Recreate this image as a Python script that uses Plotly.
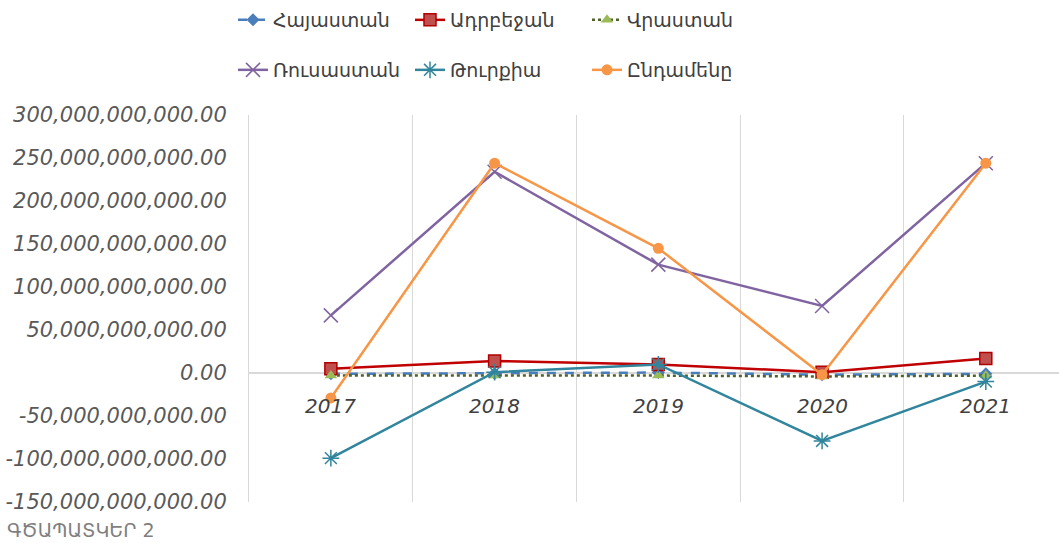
import plotly.graph_objects as go

years = ["2017", "2018", "2019", "2020", "2021"]
armenia = [-1.0e9, -0.5e9, 0.5e9, -2.0e9, -1.0e9]
azerbaijan = [5e9, 14e9, 10e9, 1e9, 17e9]
georgia = [-3e9, -3e9, -3e9, -4e9, -3e9]
russia = [67e9, 234e9, 126e9, 78e9, 244e9]
turkey = [-99e9, 1e9, 10e9, -79e9, -10e9]
total = [-29e9, 244e9, 145e9, -2e9, 244e9]
names = ["Հայաստան", "Ադրբեջան", "Վրաստան", "Ռուսաստան", "Թուրքիա", "Ընդամենը"]
ytick_vals = [-150e9, -100e9, -50e9, 0, 50e9, 100e9, 150e9, 200e9, 250e9, 300e9]
caption = "ԳԾԱՊԱՏԿԵՐ 2"

ytick_text = [f"{v:,.2f}" for v in ytick_vals]

fig = go.Figure()
specs = [
    (armenia, names[0], dict(color="#4a7ebb", width=2.5, dash="dash"), dict(symbol="diamond", size=10, color="#4a7ebb"), "legend"),
    (azerbaijan, names[1], dict(color="#c00000", width=2.5), dict(symbol="square", size=12, color="#c0504d", line=dict(color="#b00000", width=1.5)), "legend"),
    (georgia, names[2], dict(color="#4f6228", width=2.5, dash="dot"), dict(symbol="triangle-up", size=11, color="#9bbb59"), "legend"),
    (russia, names[3], dict(color="#8064a2", width=2.5), dict(symbol="x-thin-open", size=14, color="#8064a2", line=dict(color="#8064a2", width=1.5)), "legend2"),
    (turkey, names[4], dict(color="#31859c", width=2.5), dict(symbol="asterisk-open", size=14, color="#31859c", line=dict(color="#31859c", width=1.5)), "legend2"),
    (total, names[5], dict(color="#f79646", width=2.5), dict(symbol="circle", size=11, color="#f79646"), "legend2"),
]
for vals, nm, ln, mk, lg in specs:
    fig.add_trace(go.Scatter(x=years, y=vals, name=nm, mode="lines+markers",
                             line=ln, marker=mk, legend=lg))

for i, yr in enumerate(years):
    fig.add_annotation(x=i, y=0, text=yr, showarrow=False, yshift=-33,
                       font=dict(family="DejaVu Sans", size=20, color="#404040", style="italic"))

fig.add_annotation(xref="paper", yref="paper", x=-244/810, y=-28/387, xanchor="left", yanchor="middle",
                   text=caption, showarrow=False,
                   font=dict(family="DejaVu Sans", size=19, color="#7f7f7f"))

legend_common = dict(orientation="h", xref="container", yref="container", xanchor="left", yanchor="middle",
                     font=dict(family="DejaVu Sans", size=19, color="#404040"),
                     bgcolor="rgba(0,0,0,0)", entrywidth=132, itemwidth=30)
fig.update_layout(
    width=1059, height=543,
    margin=dict(l=249, r=0, t=115, b=41),
    paper_bgcolor="white", plot_bgcolor="white",
    legend=dict(x=233/1059, y=1 - 20/543, **legend_common),
    legend2=dict(x=233/1059, y=1 - 70/543, **legend_common),
    xaxis=dict(type="category", range=[-0.5, 4.447], tickson="boundaries", showgrid=True,
               gridcolor="#d9d9d9", gridwidth=1, showticklabels=False, ticks="", zeroline=False,
               showline=False),
    yaxis=dict(range=[-150e9, 300e9], tickvals=ytick_vals, ticktext=ytick_text, showgrid=False,
               zeroline=True, zerolinecolor="#d9d9d9", zerolinewidth=1.5,
               showline=True, linecolor="#d9d9d9", linewidth=1, ticks="", ticklabelstandoff=17,
               tickfont=dict(family="DejaVu Sans", size=21, color="#595959", style="italic")),
    showlegend=True,
)
fig.write_html("out.html")
